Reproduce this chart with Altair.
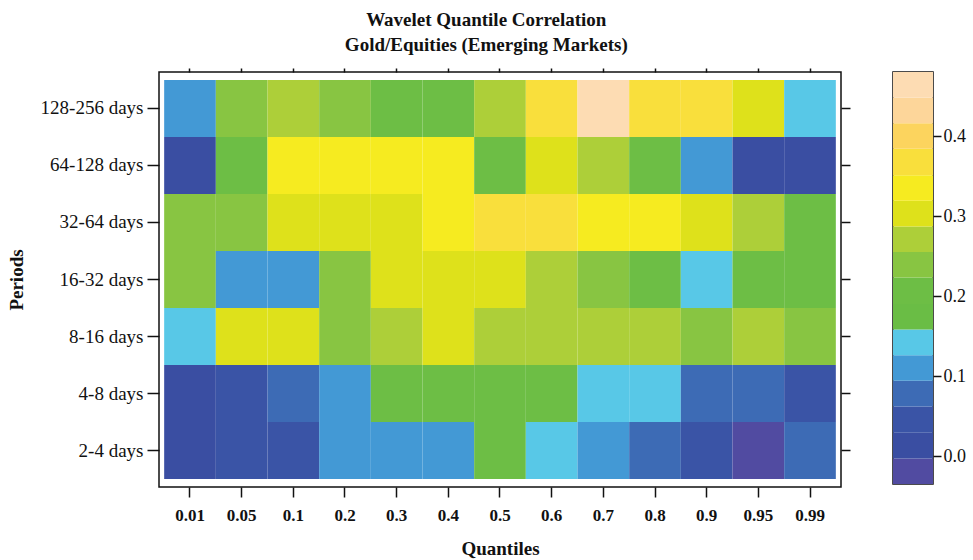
import altair as alt
import pandas as pd

# ---- data -----------------------------------------------------------------
quantiles = ["0.01", "0.05", "0.1", "0.2", "0.3", "0.4", "0.5",
             "0.6", "0.7", "0.8", "0.9", "0.95", "0.99"]
periods = ["128-256 days", "64-128 days", "32-64 days", "16-32 days",
           "8-16 days", "4-8 days", "2-4 days"]

row_128_256 = [0.11, 0.24, 0.27, 0.24, 0.21, 0.21, 0.27, 0.37, 0.46, 0.37, 0.37, 0.30, 0.14]
row_64_128 = [0.01, 0.21, 0.34, 0.34, 0.34, 0.34, 0.21, 0.30, 0.27, 0.21, 0.11, 0.01, 0.01]
row_32_64 = [0.24, 0.24, 0.30, 0.30, 0.30, 0.34, 0.37, 0.37, 0.34, 0.34, 0.30, 0.27, 0.21]
row_16_32 = [0.24, 0.11, 0.11, 0.24, 0.30, 0.30, 0.30, 0.27, 0.24, 0.21, 0.14, 0.21, 0.21]
row_8_16 = [0.14, 0.30, 0.30, 0.24, 0.27, 0.30, 0.27, 0.27, 0.27, 0.27, 0.24, 0.27, 0.24]
row_4_8 = [0.01, 0.05, 0.08, 0.11, 0.21, 0.21, 0.21, 0.21, 0.14, 0.14, 0.08, 0.08, 0.05]
row_2_4 = [0.01, 0.05, 0.05, 0.11, 0.11, 0.11, 0.21, 0.14, 0.11, 0.08, 0.05, -0.02, 0.08]
rows = [row_128_256, row_64_128, row_32_64, row_16_32, row_8_16, row_4_8, row_2_4]

# colour bar bins
cbar_min, cbar_max = -0.035, 0.48
thresholds = [-0.003, 0.029, 0.062, 0.094, 0.126, 0.158, 0.190, 0.223,
              0.255, 0.287, 0.319, 0.351, 0.384, 0.416, 0.448]
palette = ["#514BA1", "#3A4EA2", "#3A54A6", "#3D6BB5", "#4399D5", "#58C8E7",
           "#6ABD45", "#6DBE45", "#88C542", "#ADCF39", "#DEE11B", "#F6EB20",
           "#F9DF3C", "#FCD45E", "#FDD69A", "#FDDCB3"]
cbar_ticks = [0.0, 0.1, 0.2, 0.3, 0.4]

# ---- tables ----------------------------------------------------------------
records = []
for p, row in zip(periods, rows):
    for q, v in zip(quantiles, row):
        records.append({"period": p, "quantile": q, "corr": v})
df = pd.DataFrame(records)

cb_df = pd.DataFrame({"lower": [cbar_min] + thresholds,
                      "upper": thresholds + [cbar_max]})

FONT = "Liberation Serif"
INK = "#111"
color_scale = alt.Scale(type="threshold", domain=thresholds, range=palette)
x_scale = alt.Scale(paddingInner=0, paddingOuter=0.1)
y_scale = alt.Scale(paddingInner=0, paddingOuter=0.14)

base = alt.Chart(df)

cells = base.mark_rect().encode(
    x=alt.X("quantile:O", sort=quantiles, scale=x_scale,
            axis=alt.Axis(orient="bottom", title="Quantiles", labelAngle=0,
                          labelFont=FONT, labelFontSize=17, labelFontWeight="bold",
                          labelColor=INK, labelPadding=10, tickSize=10,
                          tickWidth=1.5, tickColor=INK, domain=False,
                          titleFont=FONT, titleFontSize=19, titleFontWeight="bold",
                          titleColor=INK, titlePadding=16)),
    y=alt.Y("period:O", sort=periods, scale=y_scale,
            axis=alt.Axis(orient="left", title="Periods",
                          labelFont=FONT, labelFontSize=19, labelColor=INK,
                          labelPadding=4, tickSize=12, tickWidth=1.5,
                          tickColor=INK, domain=False,
                          titleFont=FONT, titleFontSize=19, titleFontWeight="bold",
                          titleColor=INK, titlePadding=14)),
    color=alt.Color("corr:Q", scale=color_scale, legend=None),
)

ghost = base.mark_rect(opacity=0).encode(
    x=alt.X("quantile:O", sort=quantiles, scale=x_scale,
            axis=alt.Axis(orient="top", title=None, labels=False, tickSize=4,
                          tickWidth=1.5, tickColor=INK, domain=False)),
    y=alt.Y("period:O", sort=periods, scale=y_scale,
            axis=alt.Axis(orient="right", title=None, labels=False, tickSize=9,
                          tickWidth=1.5, tickColor=INK, domain=False)),
)

heat = alt.layer(cells, ghost).resolve_axis(x="independent", y="independent").properties(
    width=682, height=415
)

cbar = alt.Chart(cb_df).mark_rect().transform_calculate(
    mid="(datum.lower + datum.upper) / 2"
).encode(
    x=alt.value(0),
    x2=alt.value(40),
    y=alt.Y("lower:Q", scale=alt.Scale(domain=[cbar_min, cbar_max], nice=False, zero=False),
            axis=alt.Axis(orient="right", title=None, values=cbar_ticks, format=".1f",
                          labelFont=FONT, labelFontSize=18, labelColor=INK,
                          tickSize=8, tickWidth=1.5, tickColor=INK,
                          domain=False, grid=False, labelPadding=2)),
    y2="upper:Q",
    color=alt.Color("mid:Q", scale=color_scale, legend=None),
).properties(width=40, height=412)

chart = alt.hconcat(heat, cbar, spacing=40).properties(
    title=alt.TitleParams(
        text=["Wavelet Quantile Correlation", "Gold/Equities (Emerging Markets)"],
        font=FONT, fontSize=19, fontWeight="bold", color=INK,
        anchor="middle", lineHeight=25, offset=12),
    padding={"left": 6, "top": 10, "right": 5, "bottom": 2},
    background="white",
).configure_view(stroke=INK, strokeWidth=1.5).configure_axis(grid=False)

chart.save("out.html", embed_options={"renderer": "svg", "actions": False})
